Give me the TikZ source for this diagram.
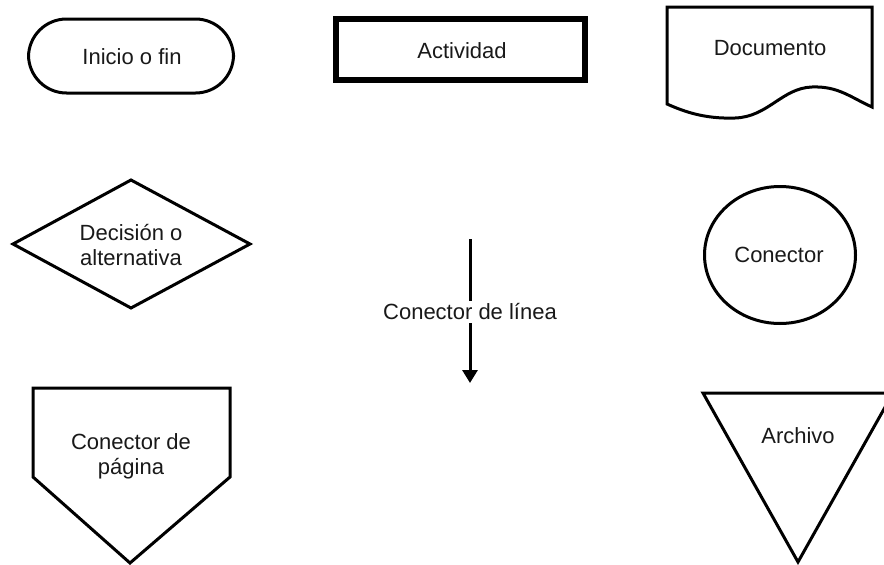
\documentclass[tikz,border=0pt]{standalone}
\usepackage{fontspec}
\setmainfont{Liberation Sans}
\usetikzlibrary{arrows.meta,shapes.geometric}
\begin{document}
\begin{tikzpicture}[x=1pt,y=-1pt,
  shp/.style={draw=black,line width=3pt,line join=miter},
  lbl/.style={font=\fontsize{22}{25}\selectfont,text=black!90,align=center,inner sep=0pt},
  arr/.style={line width=3pt,-{Triangle[width=15pt,length=13pt]}}]
\useasboundingbox (0,0) rectangle (884,565);
\clip (0,0) rectangle (884,565);
% Inicio o fin
\node[shp,rounded corners=38pt,minimum width=205pt,minimum height=74pt,inner sep=0pt] (inicio) at (131,56) {};
\node[lbl] (inicioT) at (132,57) {Inicio o fin};
% Actividad
\node[draw=black,line width=5.5pt,minimum width=249pt,minimum height=61pt,inner sep=0pt] (act) at (460.5,49.5) {};
\node[lbl] (actT) at (462,51) {Actividad};
% Documento
\draw[shp] (667,7) -- (872,7) -- (872,107)
  .. controls (850,97) and (838,86) .. (812,87)
  .. controls (782,88) and (768,117) .. (735,118)
  .. controls (705,119) and (685,112) .. (667,104) -- cycle;
\node[lbl] (doc) at (770,48) {Documento};
% Decision
\draw[shp] (13,244) -- (131,180) -- (250,244) -- (131,308) -- cycle;
\node[lbl] (dec) at (131,245) {Decisión o\\alternativa};
% Conector (circle)
\node[shp,ellipse,minimum width=151pt,minimum height=137pt,inner sep=0pt] (con) at (780,255) {};
\node[lbl] (conT) at (779,255) {Conector};
% Conector de linea
\coordinate (ltop) at (470,239);
\coordinate (lbot) at (470,383);
\draw[arr] (ltop) -- (lbot);
\node[lbl,fill=white,inner ysep=3pt,inner xsep=2pt] (lin) at (470,312) {Conector de línea};
% Conector de pagina
\draw[shp] (33,388) -- (230,388) -- (230,477) -- (130,563) -- (33,477) -- cycle;
\node[lbl] (pag) at (131,456) {Conector de\\página};
% Archivo
\draw[shp] (703,393) -- (893,393) -- (798,562) -- cycle;
\node[lbl] (arch) at (798,436) {Archivo};
\end{tikzpicture}
\end{document}
